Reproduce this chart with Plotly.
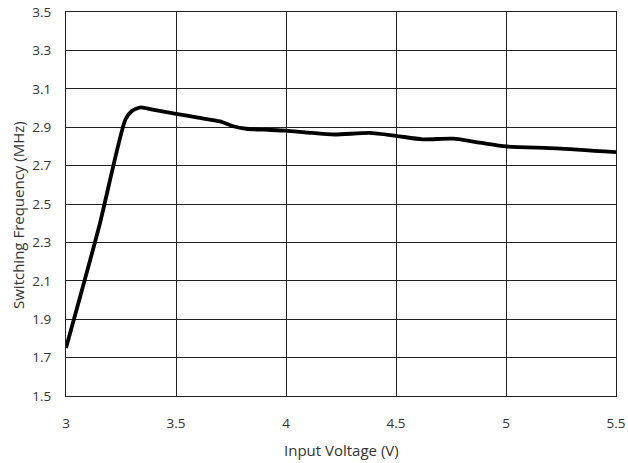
import plotly.graph_objects as go

voltage = [3.0, 3.15, 3.27, 3.30, 3.34, 3.40, 3.50, 3.60, 3.70, 3.76, 3.82, 3.90, 4.00, 4.10, 4.22,
           4.38, 4.50, 4.62, 4.76, 4.88, 5.00, 5.23, 5.50]
freq = [1.75, 2.38, 2.94, 2.985, 3.003, 2.99, 2.97, 2.95, 2.93, 2.905, 2.892, 2.887, 2.882, 2.872, 2.862,
        2.870, 2.855, 2.837, 2.840, 2.820, 2.800, 2.790, 2.770]

x_ticks = [3, 3.5, 4, 4.5, 5, 5.5]
y_ticks = [1.5, 1.7, 1.9, 2.1, 2.3, 2.5, 2.7, 2.9, 3.1, 3.3, 3.5]

x_title = "Input Voltage (V)"
y_title = "Switching Frequency (MHz)"

fig = go.Figure()
fig.add_trace(go.Scatter(x=voltage, y=freq, mode="lines",
                         line=dict(color="black", width=3.8, shape="spline", smoothing=0.6),
                         showlegend=False))

font = dict(family="Open Sans, Noto Sans, sans-serif", size=13.5, color="#333333")
fig.update_layout(
    width=628, height=463,
    margin=dict(l=66, r=12, t=12, b=67, autoexpand=False),
    paper_bgcolor="white", plot_bgcolor="white",
    font=font,
    xaxis=dict(range=[3, 5.5], tickvals=x_ticks, ticktext=[str(v) for v in x_ticks],
               showgrid=True, gridcolor="#222222", gridwidth=1,
               showline=True, linecolor="#222222", linewidth=1, mirror=True,
               zeroline=False, ticks="", ticklabelstandoff=15, automargin=False,
               ticklabeloverflow="allow"),
    yaxis=dict(range=[1.5, 3.5], tickvals=y_ticks, ticktext=[f"{v:.1f}" for v in y_ticks],
               showgrid=True, gridcolor="#222222", gridwidth=1,
               showline=True, linecolor="#222222", linewidth=1, mirror=True,
               zeroline=False, ticks="", ticklabelstandoff=11, automargin=False,
               ticklabeloverflow="allow"),
    annotations=[
        dict(text=x_title, xref="paper", yref="paper", x=0.5, y=0, xanchor="center",
             yanchor="middle", yshift=-54, showarrow=False, font=dict(size=15)),
        dict(text=y_title, xref="paper", yref="paper", x=0, y=0.5, xanchor="center",
             yanchor="middle", xshift=-48, yshift=-11, textangle=-90, showarrow=False,
             font=dict(size=15)),
    ],
)
fig.write_html("out.html", config={"displayModeBar": False},
               post_script="document.body.style.margin='0';")
